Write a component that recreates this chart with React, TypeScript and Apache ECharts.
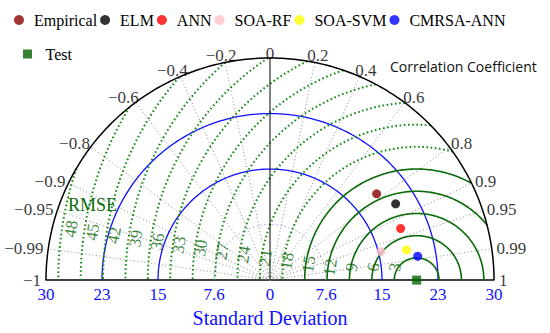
import React, { useEffect, useRef } from 'react';
import * as echarts from 'echarts';

// ---------- data ----------
const MODEL_NAMES = ['Empirical', 'ELM', 'ANN', 'SOA-RF', 'SOA-SVM', 'CMRSA-ANN'];
const MODEL_STD = [18.43, 19.73, 18.83, 15.35, 18.74, 20.04];
const MODEL_CORR = [0.775, 0.853, 0.929, 0.968, 0.976, 0.987];
const MODEL_COLORS = ['#8b0000', '#000000', '#ff0000', '#ffc0cb', '#ffff00', '#0000ff'];

const REF_NAME = 'Test';
const REF_STD = 19.64;
const REF_COLOR = '#006400';

const STD_MAX = 30;
const STD_TICK_LABELS = ['30', '23', '15', '7.6', '0', '7.6', '15', '23', '30'];
const STD_ARCS_SOLID = [15, 22.5];
const STD_ARCS_DOTTED = [7.5];

const CORR_TICKS = [-1, -0.99, -0.95, -0.9, -0.8, -0.6, -0.4, -0.2, 0, 0.2, 0.4, 0.6, 0.8, 0.9, 0.95, 0.99, 1];
const RMSE_LEVELS = [3, 6, 9, 12, 15, 18, 21, 24, 27, 30, 33, 36, 39, 42, 45, 48];
const RMSE_SOLID_MAX = 15;

// ---------- layout ----------
const W = 550;
const H = 333;
const GRID_LEFT = 46;
const GRID_TOP = 58;
const GRID_W = 448;
const PX = GRID_W / (2 * STD_MAX); // px per unit
const SERIF = '"Liberation Serif", "Times New Roman", serif';
const GREEN_SOLID = '#0a6a0a';
const GREEN_DOT = '#138a13';
const GREEN_TEXT = '#0c6a0c';

const toXY = (std: number, corr: number): [number, number] => [
  std * corr,
  std * Math.sqrt(Math.max(0, 1 - corr * corr)),
];

const arcPts = (cx: number, r: number, t0: number, t1: number, n = 160): [number, number][] => {
  const pts: [number, number][] = [];
  for (let i = 0; i <= n; i++) {
    const t = t0 + ((t1 - t0) * i) / n;
    pts.push([cx + r * Math.cos(t), r * Math.sin(t)]);
  }
  return pts;
};

const fmtCorr = (v: number) => (v < 0 ? '\u2212' + String(-v) : String(v));

let measureCtx: CanvasRenderingContext2D | null = null;
const textW = (s: string, font: string) => {
  if (!measureCtx) measureCtx = document.createElement('canvas').getContext('2d');
  if (!measureCtx) return s.length * 8;
  measureCtx.font = font;
  return measureCtx.measureText(s).width;
};

function buildOption() {
  const series: any[] = [];
  const lineBase = {
    type: 'line',
    showSymbol: false,
    symbol: 'none',
    silent: true,
    clip: false,
    z: 1,
  };

  // gray dotted correlation rays
  CORR_TICKS.filter((c) => Math.abs(c) < 1 && c !== 0).forEach((c) => {
    series.push({
      ...lineBase,
      data: [[0, 0], toXY(STD_MAX, c)],
      lineStyle: { color: '#8c8c8c', width: 1, type: [1, 2.5] },
    });
  });

  // std arcs
  STD_ARCS_DOTTED.forEach((r) => {
    series.push({
      ...lineBase,
      data: arcPts(0, r, 0, Math.PI),
      lineStyle: { color: '#6f6fff', width: 1, type: [1, 3] },
    });
  });
  STD_ARCS_SOLID.forEach((r) => {
    series.push({
      ...lineBase,
      z: 2,
      data: arcPts(0, r, 0, Math.PI),
      lineStyle: { color: '#1010ff', width: 1.3 },
    });
  });

  // RMSE arcs centred on the reference point, clipped to the outer circle
  RMSE_LEVELS.forEach((r) => {
    const cmax = (STD_MAX * STD_MAX - REF_STD * REF_STD - r * r) / (2 * REF_STD * r);
    const t0 = cmax >= 1 ? 0 : Math.acos(Math.max(-1, cmax));
    const solid = r <= RMSE_SOLID_MAX;
    series.push({
      ...lineBase,
      z: 2,
      data: arcPts(REF_STD, r, t0, Math.PI),
      lineStyle: solid
        ? { color: GREEN_SOLID, width: 1.6 }
        : { color: GREEN_DOT, width: 2, type: [1.6, 2.6] },
    });
  });

  // outer circle + zero correlation line
  series.push({
    ...lineBase,
    z: 3,
    data: arcPts(0, STD_MAX, 0, Math.PI, 240),
    lineStyle: { color: '#000', width: 1.5 },
  });
  series.push({
    ...lineBase,
    z: 3,
    data: [[0, 0], toXY(STD_MAX, 0)],
    lineStyle: { color: '#000', width: 1 },
  });

  // RMSE labels
  const lblAng = (171.5 * Math.PI) / 180;
  const minY = 13 / PX;
  series.push({
    type: 'scatter',
    silent: true,
    clip: false,
    symbol: 'circle',
    symbolSize: 0.01,
    itemStyle: { color: 'rgba(0,0,0,0)' },
    z: 4,
    data: RMSE_LEVELS.map((r) => ({
      name: String(r),
      value: [REF_STD + 0.975 * r * Math.cos(lblAng), Math.max(minY, 0.975 * r * Math.sin(lblAng))],
    })),
    label: {
      show: true,
      position: 'inside',
      formatter: '{b}',
      rotate: 81,
      color: GREEN_TEXT,
      fontSize: 17,
      fontFamily: SERIF,
    },
  });

  // correlation tick labels
  const corrFont = `17px ${SERIF}`;
  series.push({
    type: 'scatter',
    silent: true,
    clip: false,
    symbol: 'circle',
    symbolSize: 0.01,
    itemStyle: { color: 'rgba(0,0,0,0)' },
    z: 4,
    data: CORR_TICKS.map((c) => {
      const s = fmtCorr(c);
      const w = textW(s, corrFont);
      const th = Math.acos(c);
      const ux = Math.cos(th);
      const uy = Math.sin(th);
      const dx = ux * (w / 2 + 5);
      const dy = -(5 + 4 * Math.sqrt(Math.abs(ux))) * uy * uy;
      return {
        name: s,
        value: toXY(STD_MAX, c),
        label: { offset: [dx, dy] },
      };
    }),
    label: {
      show: true,
      position: 'inside',
      formatter: '{b}',
      color: '#000',
      fontSize: 17,
      fontFamily: SERIF,
    },
  });

  // model points
  MODEL_NAMES.forEach((name, i) => {
    series.push({
      type: 'scatter',
      name,
      z: 10,
      symbol: 'circle',
      symbolSize: 9,
      itemStyle: { color: MODEL_COLORS[i] },
      data: [toXY(MODEL_STD[i], MODEL_CORR[i])],
    });
  });
  series.push({
    type: 'scatter',
    name: REF_NAME,
    z: 10,
    clip: false,
    symbol: 'rect',
    symbolSize: 9,
    itemStyle: { color: REF_COLOR },
    data: [toXY(REF_STD, 1)],
  });

  const legendText = { fontFamily: SERIF, fontSize: 16, color: '#000' };

  return {
    animation: false,
    backgroundColor: '#fff',
    grid: { left: GRID_LEFT, top: GRID_TOP, width: GRID_W, height: GRID_W / 2 },
    xAxis: {
      type: 'value',
      min: -STD_MAX,
      max: STD_MAX,
      interval: 7.5,
      axisLine: { show: true, lineStyle: { color: '#000', width: 1.5 } },
      axisTick: { show: false },
      splitLine: { show: false },
      axisLabel: {
        color: '#1010ff',
        fontSize: 17,
        fontFamily: SERIF,
        margin: 6,
        formatter: (v: number) => STD_TICK_LABELS[Math.round((v + STD_MAX) / 7.5)] ?? '',
      },
      name: 'Standard Deviation',
      nameLocation: 'middle',
      nameGap: 25,
      nameTextStyle: { color: '#1010ff', fontSize: 20, fontFamily: SERIF },
    },
    yAxis: { type: 'value', min: 0, max: STD_MAX, show: false },
    legend: [
      {
        data: MODEL_NAMES,
        left: 9,
        top: 7,
        itemWidth: 20,
        itemHeight: 10,
        itemGap: 3,
        icon: 'circle',
        textStyle: legendText,
      },
      {
        data: [{ name: REF_NAME, icon: 'path://M0,0H10V10H0Z' }],
        left: 18,
        top: 41,
        itemWidth: 26,
        itemHeight: 9,
        textStyle: legendText,
      },
    ],
    graphic: [
      {
        type: 'text',
        left: 390,
        top: 59,
        style: {
          text: 'Correlation Coefficient',
          fill: '#111',
          font: '14px "Open Sans", "Noto Sans", sans-serif',
        },
      },
      {
        type: 'text',
        left: 68,
        top: 196,
        style: {
          text: 'RMSE',
          fill: GREEN_TEXT,
          font: `18px ${SERIF}`,
        },
      },
    ],
    series,
  };
}

export default function App() {
  const ref = useRef<HTMLDivElement>(null);
  useEffect(() => {
    if (!ref.current) return;
    const chart = echarts.init(ref.current, undefined, { renderer: 'svg' });
    chart.setOption(buildOption() as any);
    return () => chart.dispose();
  }, []);
  return (
    <div
      ref={ref}
      style={{ position: 'fixed', left: 0, top: 0, width: W, height: H, background: '#fff' }}
    />
  );
}
